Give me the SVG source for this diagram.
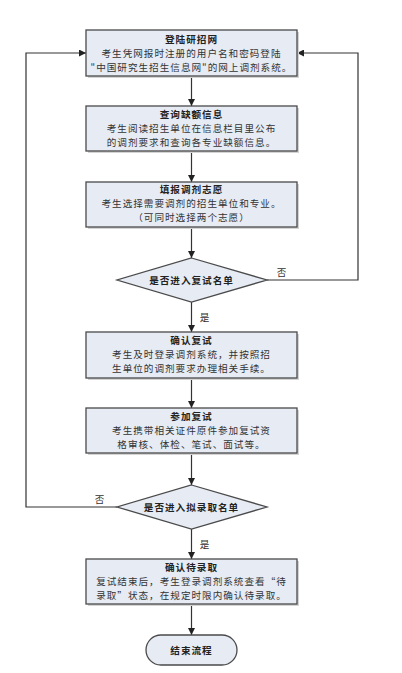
<svg xmlns="http://www.w3.org/2000/svg" width="402" height="673" viewBox="0 0 402 673">
<style>
.box{fill:#e6ebf4;stroke:#4a4a4a;stroke-width:1.3}
.sh{fill:#d4d4d4}
.t{font-family:"Noto Sans CJK SC","Noto Sans",sans-serif;font-size:9.6px;letter-spacing:1px;fill:#333;text-anchor:middle}
.b{font-weight:bold;fill:#222}
.ln{fill:none;stroke:#333;stroke-width:1.2}
</style>
<defs>
<marker id="ah" viewBox="0 0 8 8" refX="8" refY="4" markerWidth="7" markerHeight="7" markerUnits="userSpaceOnUse" orient="auto">
<path d="M0,0 L8,4 L0,8 z" fill="#222"/>
</marker>
</defs>
<rect width="402" height="673" fill="#fff"/>
<g id="connectors">
<path class="ln" d="M191.5,76 V106" marker-end="url(#ah)"/>
<path class="ln" d="M191.5,151 V182" marker-end="url(#ah)"/>
<path class="ln" d="M191.5,227 V258" marker-end="url(#ah)"/>
<path class="ln" d="M191.5,302 V332" marker-end="url(#ah)"/>
<path class="ln" d="M191.5,378 V408" marker-end="url(#ah)"/>
<path class="ln" d="M191.5,453 V485" marker-end="url(#ah)"/>
<path class="ln" d="M191.5,529 V559" marker-end="url(#ah)"/>
<path class="ln" d="M191.5,604 V635" marker-end="url(#ah)"/>
<path class="ln" d="M267,280 H358 V53 H297" marker-end="url(#ah)"/>
<path class="ln" d="M117,507 H26 V53 H86" marker-end="url(#ah)"/>
<text class="t" x="282" y="276">否</text>
<text class="t" x="205" y="321">是</text>
<text class="t" x="100" y="503">否</text>
<text class="t" x="205" y="548">是</text>
</g>
<g id="n1">
<rect class="sh" x="88" y="32" width="211" height="46"/>
<rect class="box" x="86" y="30" width="211" height="46"/>
<text class="t b" x="191.5" y="43">登陆研招网</text>
<text class="t" x="191.5" y="57">考生凭网报时注册的用户名和密码登陆</text>
<text class="t" x="191.5" y="71">"中国研究生招生信息网"的网上调剂系统。</text>
</g>
<g id="n2">
<rect class="sh" x="88" y="108" width="211" height="45"/>
<rect class="box" x="86" y="106" width="211" height="45"/>
<text class="t b" x="191.5" y="118">查询缺额信息</text>
<text class="t" x="191.5" y="132">考生阅读招生单位在信息栏目里公布</text>
<text class="t" x="191.5" y="146">的调剂要求和查询各专业缺额信息。</text>
</g>
<g id="n3">
<rect class="sh" x="88" y="184" width="211" height="45"/>
<rect class="box" x="86" y="182" width="211" height="45"/>
<text class="t b" x="191.5" y="193">填报调剂志愿</text>
<text class="t" x="191.5" y="207">考生选择需要调剂的招生单位和专业。</text>
<text class="t" x="191.5" y="221">（可同时选择两个志愿）</text>
</g>
<g id="d1">
<polygon class="box" points="191.5,258 267,280 191.5,302 117,280"/>
<text class="t b" x="191.5" y="284">是否进入复试名单</text>
</g>
<g id="n4">
<rect class="sh" x="88" y="334" width="211" height="46"/>
<rect class="box" x="86" y="332" width="211" height="46"/>
<text class="t b" x="191.5" y="344">确认复试</text>
<text class="t" x="191.5" y="358">考生及时登录调剂系统，并按照招</text>
<text class="t" x="191.5" y="372">生单位的调剂要求办理相关手续。</text>
</g>
<g id="n5">
<rect class="sh" x="88" y="410" width="211" height="45"/>
<rect class="box" x="86" y="408" width="211" height="45"/>
<text class="t b" x="191.5" y="420">参加复试</text>
<text class="t" x="191.5" y="434">考生携带相关证件原件参加复试资</text>
<text class="t" x="191.5" y="448">格审核、体检、笔试、面试等。</text>
</g>
<g id="d2">
<polygon class="box" points="191.5,485 267,507 191.5,529 117,507"/>
<text class="t b" x="191.5" y="511">是否进入拟录取名单</text>
</g>
<g id="n6">
<rect class="sh" x="88" y="561" width="211" height="45"/>
<rect class="box" x="86" y="559" width="211" height="45"/>
<text class="t b" x="191.5" y="571">确认待录取</text>
<text class="t" x="191.5" y="585">复试结束后，考生登录调剂系统查看“待</text>
<text class="t" x="191.5" y="599">录取”状态，在规定时限内确认待录取。</text>
</g>
<g id="end">
<rect class="box" x="146" y="635" width="91" height="30" rx="15" ry="15"/>
<text class="t b" x="191.5" y="654">结束流程</text>
</g>
</svg>
